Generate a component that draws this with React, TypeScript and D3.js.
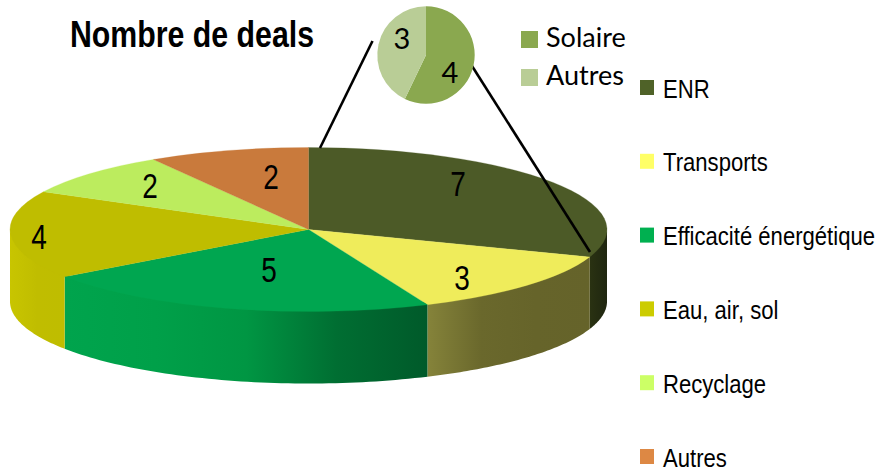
import React from "react";
import * as d3 from "d3";

const categories = ["ENR", "Transports", "Efficacité énergétique", "Eau, air, sol", "Recyclage", "Autres"];
const values = [7, 3, 5, 4, 2, 2];
const topColors = ["#4c5a27", "#efec5b", "#00a650", "#bfbd00", "#bcec5e", "#c97a3c"];
const legendColors = ["#4f6228", "#ffff66", "#00b050", "#cccc00", "#ccff66", "#dd8844"];
const sideStops: string[][] = [
  ["#2a3212", "#1f2610"],
  ["#85833a", "#6a682c", "#66642a", "#65632a"],
  ["#00a44d", "#00a049", "#009643", "#006e32", "#005a2a"],
  ["#c8c500", "#c0bd00", "#bfbd00"],
  ["#c0bd00"],
  ["#c0bd00"],
];
const subCategories = ["Solaire", "Autres"];
const subValues = [4, 3];
const subColors = ["#8aa84f", "#b9cd96"];
const title = "Nombre de deals";

const CX = 308.5, CY = 229.5, RX = 298.5, RY = 82, DEPTH = 72;
const px = (a: number) => CX + RX * Math.sin(a);
const py = (a: number) => CY - RY * Math.cos(a);
const SANS = "'Liberation Sans',Arial,sans-serif";

function sidePath(a0: number, a1: number) {
  const s = Math.max(a0, Math.PI / 2), e = Math.min(a1, (3 * Math.PI) / 2);
  if (e <= s) return null;
  const pts = d3.range(0, 61).map((i) => s + ((e - s) * i) / 60);
  // The upper edge runs a little under the top face so no white seam shows between them.
  const top = pts.map((a) => [px(a), py(a) - 3] as [number, number]);
  const bot = pts.slice().reverse().map((a) => [px(a), py(a) + DEPTH] as [number, number]);
  return { d: d3.line()([...top, ...bot]) + "Z", s, e };
}

export default function App() {
  const pie = d3.pie<number>().sort(null).value((d) => d);
  const arcs = pie(values);
  const arc = d3.arc<d3.PieArcDatum<number>>().innerRadius(0).outerRadius(RX);
  const subArcs = pie(subValues);
  const subR = 48.7;
  const subArc = d3.arc<d3.PieArcDatum<number>>().innerRadius(0).outerRadius(subR);
  const labelPos = [
    [458, 195.5], [462, 289.5], [269, 281.5], [39, 248.5], [150, 197.5], [271, 188.5],
  ];
  const subLabelPos = [[450, 83], [402, 49]];
  const legendY = d3.scalePoint<string>().domain(categories).range([87.5, 456.5]);

  return (
    <svg width={878} height={473} style={{ position: "absolute", left: 0, top: 0, background: "#fff" }}>
      <defs>
        {arcs.map((a, i) => {
          const s = sidePath(a.startAngle, a.endAngle);
          if (!s) return null;
          const x0 = px(s.s), x1 = px(s.e);
          const stops = sideStops[i];
          return (
            <linearGradient key={i} id={`side${i}`} gradientUnits="userSpaceOnUse" x1={x1} x2={x0} y1={0} y2={0}>
              {stops.map((c, j) => (
                <stop key={j} offset={stops.length > 1 ? j / (stops.length - 1) : 0} stopColor={c} />
              ))}
            </linearGradient>
          );
        })}
      </defs>

      {arcs.map((a, i) => {
        const s = sidePath(a.startAngle, a.endAngle);
        return s ? <path key={i} d={s.d} fill={`url(#side${i})`} /> : null;
      })}
      <g transform={`translate(${CX},${CY}) scale(1,${RY / RX})`}>
        {arcs.map((a, i) => (
          <path key={i} d={arc(a) as string} fill={topColors[i]} stroke={topColors[i]} strokeWidth={0.4} />
        ))}
      </g>
      {arcs.map((a, i) => (
        <text key={i} transform={`translate(${labelPos[i][0]},${labelPos[i][1]}) scale(0.8,1)`} textAnchor="middle"
          fontFamily={SANS} fontSize={35} fill="#000">{a.data}</text>
      ))}

      <line x1={372.5} y1={41} x2={320} y2={148} stroke="#000" strokeWidth={2.6} />
      <line x1={472} y1={66} x2={590} y2={252} stroke="#000" strokeWidth={2.6} />

      <g transform="translate(426,55)">
        {subArcs.map((a, i) => (
          <path key={i} d={subArc(a) as string} fill={subColors[i]} />
        ))}
      </g>
      {subArcs.map((a, i) => (
        <text key={i} x={subLabelPos[i][0]} y={subLabelPos[i][1]} textAnchor="middle"
          fontFamily="Lato,'Open Sans',sans-serif" fontSize={29} fill="#000">{a.data}</text>
      ))}

      {subCategories.map((c, i) => (
        <g key={c}>
          <rect x={521} y={31 + i * 38} width={17} height={17} fill={subColors[i]} />
          <text x={546} y={47 + i * 38} fontFamily="Lato,'Open Sans',sans-serif" fontSize={27} fill="#000">{c}</text>
        </g>
      ))}

      <text transform="translate(70,47) scale(0.83,1)" fontFamily={SANS} fontWeight="bold" fontSize={36.5} fill="#000">{title}</text>

      {categories.map((c, i) => (
        <g key={c}>
          <rect x={640} y={(legendY(c) as number) - 7.5} width={14} height={15} fill={legendColors[i]} />
          <text transform={`translate(663,${(legendY(c) as number) + 10}) scale(0.85,1)`} fontFamily={SANS} fontSize={26} fill="#000">{c}</text>
        </g>
      ))}
    </svg>
  );
}
